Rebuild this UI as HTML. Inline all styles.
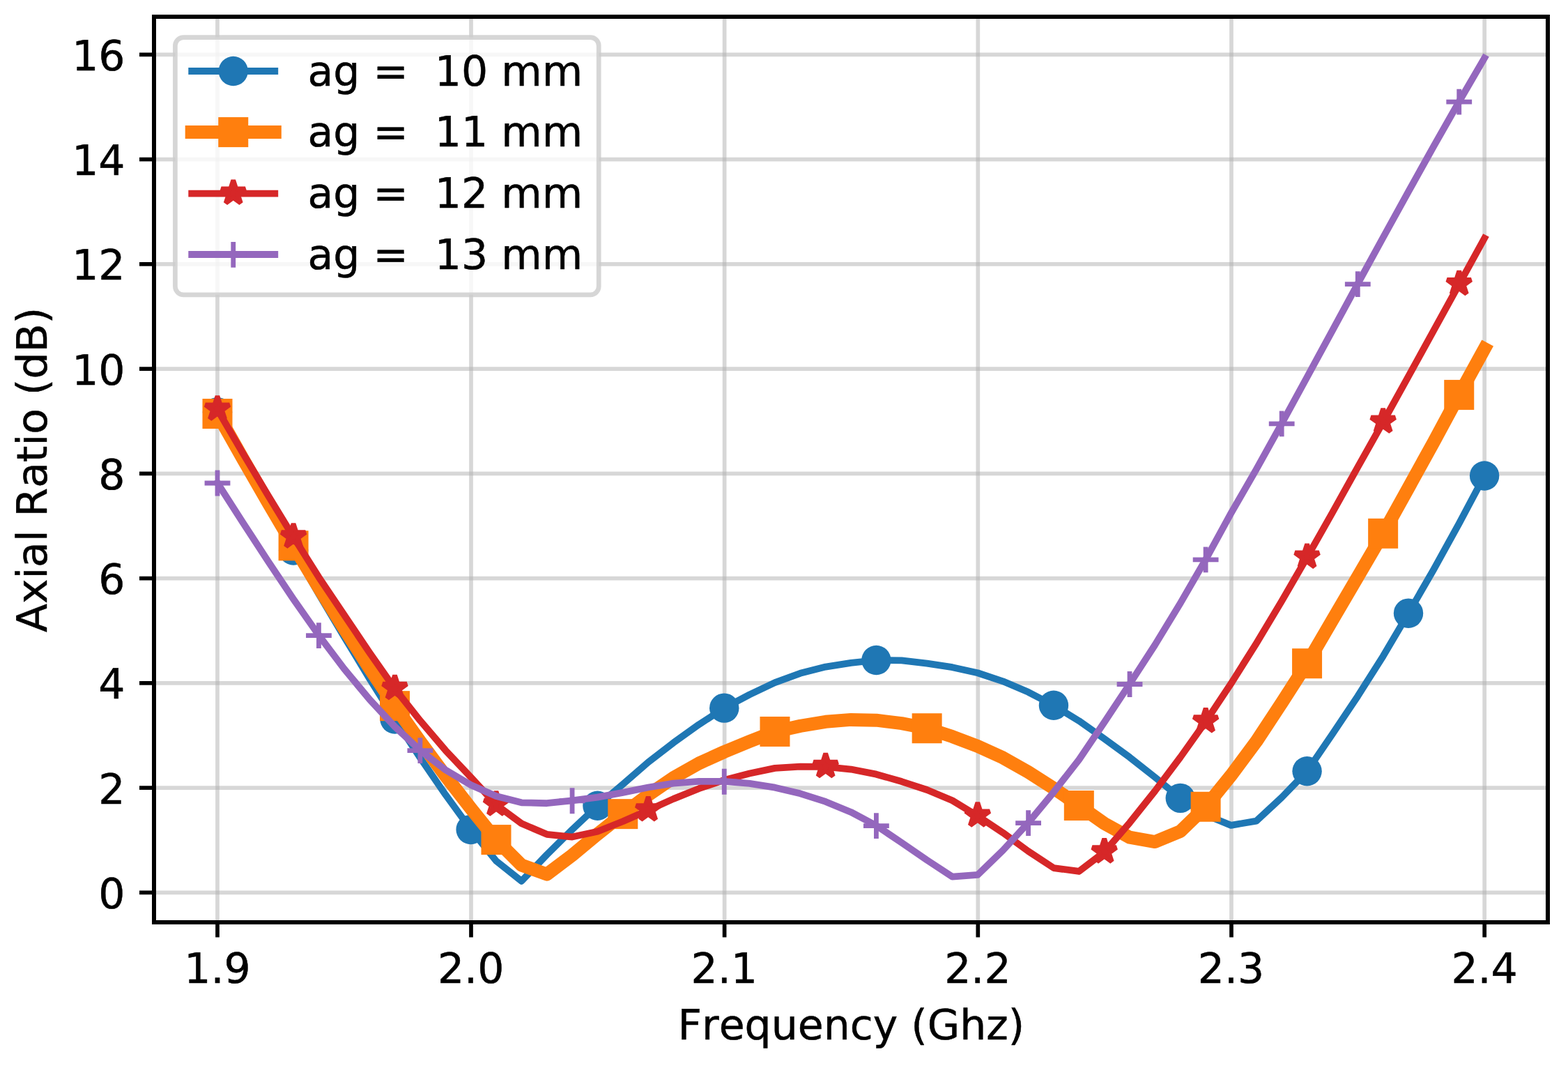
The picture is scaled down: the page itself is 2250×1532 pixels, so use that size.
<!DOCTYPE html>
<html lang="en"><head><meta charset="utf-8"><title>Axial Ratio vs Frequency</title>
<style>html,body{margin:0;padding:0;background:#fff}body{width:2250px;height:1532px;overflow:hidden}svg{display:block}text{font-family:"DejaVu Sans", "Liberation Sans", sans-serif;font-size:60px;fill:#000;stroke:#000;stroke-width:0.5px;stroke-linejoin:round;font-kerning:none;font-variant-ligatures:none;text-rendering:geometricPrecision}</style>
</head><body>
<svg width="2250" height="1532" viewBox="0 0 2250 1532">
<rect width="2250" height="1532" fill="#fff"/>
<defs><clipPath id="ax"><rect x="221" y="24" width="2000" height="1299"/></clipPath></defs>
<g stroke="#b0b0b0" stroke-opacity="0.5" stroke-width="5.7" fill="none">
<path d="M312 1323V24"/>
<path d="M676 1323V24"/>
<path d="M1039.6 1323V24"/>
<path d="M1403.3 1323V24"/>
<path d="M1767 1323V24"/>
<path d="M2130.2 1323V24"/>
<path d="M221 1280.35H2221"/>
<path d="M221 1130.1H2221"/>
<path d="M221 979.85H2221"/>
<path d="M221 829.6H2221"/>
<path d="M221 679.35H2221"/>
<path d="M221 529.1H2221"/>
<path d="M221 378.85H2221"/>
<path d="M221 228.6H2221"/>
<path d="M221 78.35H2221"/>
</g>
<g stroke="#000" stroke-width="5.7" fill="none">
<path d="M312 1323v21.5"/>
<path d="M676 1323v21.5"/>
<path d="M1039.6 1323v21.5"/>
<path d="M1403.3 1323v21.5"/>
<path d="M1767 1323v21.5"/>
<path d="M2130.2 1323v21.5"/>
<path d="M221 1280.35h-21"/>
<path d="M221 1130.1h-21"/>
<path d="M221 979.85h-21"/>
<path d="M221 829.6h-21"/>
<path d="M221 679.35h-21"/>
<path d="M221 529.1h-21"/>
<path d="M221 378.85h-21"/>
<path d="M221 228.6h-21"/>
<path d="M221 78.35h-21"/>
</g>
<g text-anchor="middle">
<text x="312" y="1410.3">1.9</text>
<text x="675.62" y="1410.3">2.0</text>
<text x="1039.24" y="1410.3">2.1</text>
<text x="1402.86" y="1410.3">2.2</text>
<text x="1766.48" y="1410.3">2.3</text>
<text x="2130.1" y="1410.3">2.4</text>
</g>
<g text-anchor="end">
<text x="179.5" y="1302.9">0</text>
<text x="179.5" y="1152.65">2</text>
<text x="179.5" y="1002.4">4</text>
<text x="179.5" y="852.15">6</text>
<text x="179.5" y="701.9">8</text>
<text x="179.5" y="551.65">10</text>
<text x="179.5" y="401.4">12</text>
<text x="179.5" y="251.15">14</text>
<text x="179.5" y="100.9">16</text>
</g>
<text x="1221.3" y="1491.2" text-anchor="middle">Frequency (Ghz)</text>
<text transform="translate(66.8 674) rotate(-90)" text-anchor="middle">Axial Ratio (dB)</text>
<g clip-path="url(#ax)">
<polyline points="312,591.2 348.36,658.89 384.72,725.04 421.09,789.53 457.45,852.25 493.81,913.51 530.17,973.37 566.53,1031.44 602.9,1087.04 639.26,1139.91 675.62,1189.95 711.98,1235.02 748.34,1263.87 784.71,1226.01 821.07,1189.96 857.43,1155.77 893.79,1125.05 930.15,1093.42 966.52,1065.35 1002.88,1039.33 1039.24,1015.66 1075.6,996.39 1111.96,979.15 1148.33,965.86 1184.69,956.54 1221.05,950.9 1257.41,947 1293.77,947.43 1330.14,951.54 1366.5,957.18 1402.86,965.25 1439.22,977.3 1475.58,992.8 1511.95,1011.75 1548.31,1034.09 1584.67,1059.74 1621.03,1086.28 1657.39,1114.98 1693.76,1144.87 1730.12,1168.92 1766.48,1183.86 1802.84,1177.63 1839.2,1143.82 1875.57,1106.26 1911.93,1053.04 1948.29,998.68 1984.65,941.29 2021.01,879.68 2057.38,816.68 2093.74,750.9 2130.1,682.48" fill="none" stroke="#1f77b4" stroke-width="9.8" stroke-linejoin="round" stroke-linecap="square"/>
<g>
<circle cx="312" cy="591.2" r="21.2" fill="#1f77b4"/>
<circle cx="421.09" cy="789.53" r="21.2" fill="#1f77b4"/>
<circle cx="566.53" cy="1031.44" r="21.2" fill="#1f77b4"/>
<circle cx="675.62" cy="1189.95" r="21.2" fill="#1f77b4"/>
<circle cx="857.43" cy="1155.77" r="21.2" fill="#1f77b4"/>
<circle cx="1039.24" cy="1015.66" r="21.2" fill="#1f77b4"/>
<circle cx="1257.41" cy="947" r="21.2" fill="#1f77b4"/>
<circle cx="1511.95" cy="1011.75" r="21.2" fill="#1f77b4"/>
<circle cx="1693.76" cy="1144.87" r="21.2" fill="#1f77b4"/>
<circle cx="1875.57" cy="1106.26" r="21.2" fill="#1f77b4"/>
<circle cx="2021.01" cy="879.68" r="21.2" fill="#1f77b4"/>
<circle cx="2130.1" cy="682.48" r="21.2" fill="#1f77b4"/>
</g>
<polyline points="312,593.46 348.36,657.9 384.72,721.05 421.09,782.77 457.45,842.88 493.81,901.45 530.17,958.26 566.53,1012.65 602.9,1063.74 639.26,1112.85 675.62,1159.63 711.98,1204.6 748.34,1241.03 784.71,1254.18 821.07,1226.76 857.43,1196.52 893.79,1167.64 930.15,1140.42 966.52,1115.47 1002.88,1095 1039.24,1078.49 1075.6,1063.53 1111.96,1049.47 1148.33,1041.39 1184.69,1035.31 1221.05,1032.38 1257.41,1033.19 1293.77,1037.62 1330.14,1044.73 1366.5,1056.56 1402.86,1070.37 1439.22,1086.96 1475.58,1107.56 1511.95,1130.72 1548.31,1155.54 1584.67,1181.24 1621.03,1201.22 1657.39,1207.53 1693.76,1192.5 1730.12,1157.27 1766.48,1112.32 1802.84,1063.44 1839.2,1008.24 1875.57,951.73 1911.93,889.45 1948.29,827.47 1984.65,765.27 2021.01,699.79 2057.38,634.02 2093.74,566.41 2130.1,500.3" fill="none" stroke="#ff7f0e" stroke-width="19" stroke-linejoin="round" stroke-linecap="square"/>
<g>
<rect x="290.5" y="571.96" width="43" height="43" fill="#ff7f0e"/>
<rect x="399.59" y="761.27" width="43" height="43" fill="#ff7f0e"/>
<rect x="545.03" y="991.15" width="43" height="43" fill="#ff7f0e"/>
<rect x="690.48" y="1183.1" width="43" height="43" fill="#ff7f0e"/>
<rect x="872.29" y="1146.14" width="43" height="43" fill="#ff7f0e"/>
<rect x="1090.46" y="1027.97" width="43" height="43" fill="#ff7f0e"/>
<rect x="1308.64" y="1023.23" width="43" height="43" fill="#ff7f0e"/>
<rect x="1526.81" y="1134.04" width="43" height="43" fill="#ff7f0e"/>
<rect x="1708.62" y="1135.77" width="43" height="43" fill="#ff7f0e"/>
<rect x="1854.07" y="930.23" width="43" height="43" fill="#ff7f0e"/>
<rect x="1963.15" y="743.77" width="43" height="43" fill="#ff7f0e"/>
<rect x="2072.24" y="544.91" width="43" height="43" fill="#ff7f0e"/>
</g>
<polyline points="312,587.45 348.36,649.85 384.72,710.86 421.09,770.3 457.45,827.96 493.81,882.04 530.17,936.03 566.53,987.86 602.9,1033.69 639.26,1076.27 675.62,1114.82 711.98,1154.42 748.34,1181.31 784.71,1196.78 821.07,1200.54 857.43,1192.73 893.79,1178.19 930.15,1162.15 966.52,1145.9 1002.88,1131.23 1039.24,1118.97 1075.6,1109.48 1111.96,1101.83 1148.33,1099.65 1184.69,1099.8 1221.05,1103.52 1257.41,1110.67 1293.77,1121.04 1330.14,1132.97 1366.5,1148.21 1402.86,1170.42 1439.22,1194.55 1475.58,1221.13 1511.95,1245.02 1548.31,1249.97 1584.67,1222.25 1621.03,1180.18 1657.39,1134.65 1693.76,1086.28 1730.12,1035.19 1766.48,980.59 1802.84,922.78 1839.2,862.2 1875.57,799.53 1911.93,735.41 1948.29,670.08 1984.65,605.48 2021.01,539.88 2057.38,473.96 2093.74,407.9 2130.1,341.79" fill="none" stroke="#d62728" stroke-width="9.8" stroke-linejoin="round" stroke-linecap="square"/>
<g>
<polygon points="312,568.35 307.94,580.85 294.79,580.85 305.42,588.58 301.36,601.09 312,593.36 322.64,601.09 318.58,588.58 329.21,580.85 316.06,580.85" fill="#d62728" stroke="#d62728" stroke-width="6.8" stroke-linejoin="bevel"/>
<polygon points="421.09,751.2 417.02,763.71 403.87,763.71 414.51,771.44 410.45,783.94 421.09,776.21 431.72,783.94 427.66,771.44 438.3,763.71 425.15,763.71" fill="#d62728" stroke="#d62728" stroke-width="6.8" stroke-linejoin="bevel"/>
<polygon points="566.53,968.76 562.47,981.27 549.32,981.27 559.96,989 555.9,1001.51 566.53,993.78 577.17,1001.51 573.11,989 583.75,981.27 570.6,981.27" fill="#d62728" stroke="#d62728" stroke-width="6.8" stroke-linejoin="bevel"/>
<polygon points="711.98,1135.32 707.92,1147.82 694.77,1147.82 705.41,1155.55 701.34,1168.06 711.98,1160.33 722.62,1168.06 718.56,1155.55 729.2,1147.82 716.05,1147.82" fill="#d62728" stroke="#d62728" stroke-width="6.8" stroke-linejoin="bevel"/>
<polygon points="930.15,1143.05 926.09,1155.56 912.94,1155.56 923.58,1163.29 919.52,1175.8 930.15,1168.07 940.79,1175.8 936.73,1163.29 947.37,1155.56 934.22,1155.56" fill="#d62728" stroke="#d62728" stroke-width="6.8" stroke-linejoin="bevel"/>
<polygon points="1184.69,1080.7 1180.62,1093.21 1167.47,1093.21 1178.11,1100.94 1174.05,1113.44 1184.69,1105.71 1195.33,1113.44 1191.26,1100.94 1201.9,1093.21 1188.75,1093.21" fill="#d62728" stroke="#d62728" stroke-width="6.8" stroke-linejoin="bevel"/>
<polygon points="1402.86,1151.32 1398.8,1163.82 1385.65,1163.82 1396.28,1171.55 1392.22,1184.06 1402.86,1176.33 1413.5,1184.06 1409.44,1171.55 1420.07,1163.82 1406.92,1163.82" fill="#d62728" stroke="#d62728" stroke-width="6.8" stroke-linejoin="bevel"/>
<polygon points="1584.67,1203.15 1580.61,1215.66 1567.46,1215.66 1578.09,1223.39 1574.03,1235.9 1584.67,1228.17 1595.31,1235.9 1591.25,1223.39 1601.88,1215.66 1588.73,1215.66" fill="#d62728" stroke="#d62728" stroke-width="6.8" stroke-linejoin="bevel"/>
<polygon points="1730.12,1016.09 1726.05,1028.6 1712.9,1028.6 1723.54,1036.33 1719.48,1048.84 1730.12,1041.11 1740.76,1048.84 1736.69,1036.33 1747.33,1028.6 1734.18,1028.6" fill="#d62728" stroke="#d62728" stroke-width="6.8" stroke-linejoin="bevel"/>
<polygon points="1875.57,780.43 1871.5,792.93 1858.35,792.93 1868.99,800.66 1864.93,813.17 1875.57,805.44 1886.2,813.17 1882.14,800.66 1892.78,792.93 1879.63,792.93" fill="#d62728" stroke="#d62728" stroke-width="6.8" stroke-linejoin="bevel"/>
<polygon points="1984.65,586.38 1980.59,598.88 1967.44,598.88 1978.08,606.61 1974.01,619.12 1984.65,611.39 1995.29,619.12 1991.23,606.61 2001.87,598.88 1988.72,598.88" fill="#d62728" stroke="#d62728" stroke-width="6.8" stroke-linejoin="bevel"/>
<polygon points="2093.74,388.8 2089.67,401.31 2076.52,401.31 2087.16,409.04 2083.1,421.54 2093.74,413.81 2104.38,421.54 2100.31,409.04 2110.95,401.31 2097.8,401.31" fill="#d62728" stroke="#d62728" stroke-width="6.8" stroke-linejoin="bevel"/>
</g>
<polyline points="312,692.62 348.36,749.33 384.72,805.08 421.09,859.4 457.45,911.24 493.81,959.35 530.17,1003.19 566.53,1042.35 602.9,1076.29 639.26,1104.36 675.62,1126.02 711.98,1142.04 748.34,1151.31 784.71,1152.23 821.07,1148.33 857.43,1143.63 893.79,1136.94 930.15,1129.47 966.52,1123.58 1002.88,1120.81 1039.24,1120.84 1075.6,1123.79 1111.96,1129.65 1148.33,1138.33 1184.69,1149.92 1221.05,1164.92 1257.41,1184.24 1293.77,1208.73 1330.14,1233.75 1366.5,1257.56 1402.86,1254.93 1439.22,1219.7 1475.58,1180.18 1511.95,1136.35 1548.31,1089.68 1584.67,1035.94 1621.03,981.1 1657.39,924.98 1693.76,865.2 1730.12,802.53 1766.48,736.19 1802.84,673.16 1839.2,607.51 1875.57,541 1911.93,474.04 1948.29,407.15 1984.65,340.73 2021.01,274.85 2057.38,209.7 2093.74,145.71 2130.1,83.36" fill="none" stroke="#9467bd" stroke-width="9.8" stroke-linejoin="round" stroke-linecap="square"/>
<g>
<path d="M293.6 693.02H330.4M312 674.62V711.42" fill="none" stroke="#9467bd" stroke-width="6.8"/>
<path d="M439.05 911.64H475.85M457.45 893.24V930.04" fill="none" stroke="#9467bd" stroke-width="6.8"/>
<path d="M584.5 1076.69H621.3M602.9 1058.29V1095.09" fill="none" stroke="#9467bd" stroke-width="6.8"/>
<path d="M802.67 1148.73H839.47M821.07 1130.33V1167.13" fill="none" stroke="#9467bd" stroke-width="6.8"/>
<path d="M1020.84 1121.24H1057.64M1039.24 1102.84V1139.64" fill="none" stroke="#9467bd" stroke-width="6.8"/>
<path d="M1239.01 1184.64H1275.81M1257.41 1166.24V1203.04" fill="none" stroke="#9467bd" stroke-width="6.8"/>
<path d="M1457.18 1180.58H1493.98M1475.58 1162.18V1198.98" fill="none" stroke="#9467bd" stroke-width="6.8"/>
<path d="M1602.63 981.5H1639.43M1621.03 963.1V999.9" fill="none" stroke="#9467bd" stroke-width="6.8"/>
<path d="M1711.72 802.93H1748.52M1730.12 784.53V821.33" fill="none" stroke="#9467bd" stroke-width="6.8"/>
<path d="M1820.8 607.91H1857.6M1839.2 589.51V626.31" fill="none" stroke="#9467bd" stroke-width="6.8"/>
<path d="M1929.89 407.55H1966.69M1948.29 389.15V425.95" fill="none" stroke="#9467bd" stroke-width="6.8"/>
<path d="M2075.34 146.11H2112.14M2093.74 127.71V164.51" fill="none" stroke="#9467bd" stroke-width="6.8"/>
</g>
</g>
<rect x="221" y="24" width="2000" height="1299" fill="none" stroke="#000" stroke-width="6" stroke-linejoin="miter"/>
<rect x="251.4" y="53.6" width="607.8" height="369.2" rx="12" ry="12" fill="#fff" fill-opacity="0.8" stroke="#ccc" stroke-opacity="0.8" stroke-width="6.7"/>
<path d="M275.2 102H394.3" fill="none" stroke="#1f77b4" stroke-width="9.8" stroke-linecap="square"/>
<circle cx="334.75" cy="102" r="21.2" fill="#1f77b4"/>
<text x="441.5" y="122.6" xml:space="preserve" style="white-space:pre">ag =  10 mm</text>
<path d="M275.2 189.6H394.3" fill="none" stroke="#ff7f0e" stroke-width="19" stroke-linecap="square"/>
<rect x="313.25" y="168.1" width="43" height="43" fill="#ff7f0e"/>
<text x="441.5" y="210.2" xml:space="preserve" style="white-space:pre">ag =  11 mm</text>
<path d="M275.2 277.6H394.3" fill="none" stroke="#d62728" stroke-width="9.8" stroke-linecap="square"/>
<polygon points="334.75,258.5 330.69,271.01 317.54,271.01 328.17,278.74 324.11,291.24 334.75,283.51 345.39,291.24 341.33,278.74 351.96,271.01 338.81,271.01" fill="#d62728" stroke="#d62728" stroke-width="6.8" stroke-linejoin="bevel"/>
<text x="441.5" y="298.2" xml:space="preserve" style="white-space:pre">ag =  12 mm</text>
<path d="M275.2 365H394.3" fill="none" stroke="#9467bd" stroke-width="9.8" stroke-linecap="square"/>
<path d="M316.35 365.4H353.15M334.75 347V383.8" fill="none" stroke="#9467bd" stroke-width="6.8"/>
<text x="441.5" y="385.6" xml:space="preserve" style="white-space:pre">ag =  13 mm</text>
</svg>
</body></html>
